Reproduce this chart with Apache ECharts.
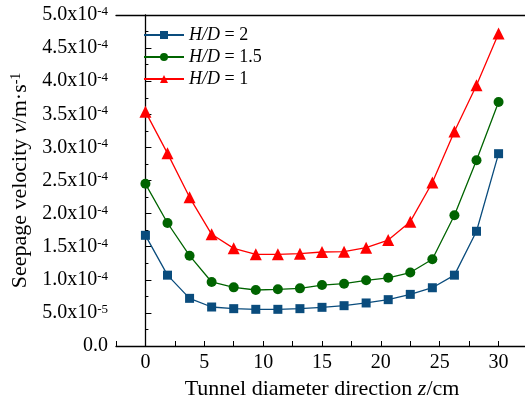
<!DOCTYPE html>
<html><head><meta charset="utf-8">
<script src="https://cdn.jsdelivr.net/npm/echarts@6/dist/echarts.min.js"></script>
<style>html,body{margin:0;padding:0;background:#fff}#c{width:525px;height:403px}</style>
</head><body><div id="c"></div>
<script>
const zValues = [0,1.875,3.75,5.625,7.5,9.375,11.25,13.125,15,16.875,18.75,20.625,22.5,24.375,26.25,28.125,30];
const hd2 = [1.672e-4,1.07e-4,0.72e-4,0.589e-4,0.564e-4,0.554e-4,0.554e-4,0.564e-4,0.584e-4,0.609e-4,0.65e-4,0.70e-4,0.78e-4,0.88e-4,1.07e-4,1.733e-4,2.905e-4];
const hd15 = [2.45e-4,1.858e-4,1.364e-4,0.967e-4,0.886e-4,0.846e-4,0.856e-4,0.871e-4,0.921e-4,0.941e-4,0.992e-4,1.03e-4,1.11e-4,1.31e-4,1.974e-4,2.805e-4,3.686e-4];
const hd1 = [3.54e-4,2.91e-4,2.246e-4,1.687e-4,1.475e-4,1.385e-4,1.385e-4,1.394e-4,1.42e-4,1.425e-4,1.485e-4,1.60e-4,1.878e-4,2.47e-4,3.24e-4,3.94e-4,4.72e-4];
const seriesNames = ['H/D = 2','H/D = 1.5','H/D = 1'];
const xTicks = [0,5,10,15,20,25,30];

const FONT = 'Liberation Serif';
const pair = (xs, ys) => xs.map((x,i)=>[x, ys[i]]);
const tickRich = {
  a:{fontFamily:FONT,fontSize:20,color:'#000',lineHeight:20},
  s:{fontFamily:FONT,fontSize:13,color:'#000',lineHeight:13,verticalAlign:'top'}
};
const nameRich = {
  a:{fontFamily:FONT,fontSize:22,color:'#000',lineHeight:22},
  i:{fontFamily:FONT,fontSize:22,color:'#000',fontStyle:'italic',lineHeight:22},
  s:{fontFamily:FONT,fontSize:14,color:'#000',lineHeight:14,verticalAlign:'top'}
};
function yFmt(v){
  if (Math.abs(v) < 1e-12) return '{a|0.0}';
  let e = Math.floor(Math.log10(v)+1e-9);
  let m = v/Math.pow(10,e);
  return '{a|'+m.toFixed(1)+'x10}{s|'+e+'}';
}
const chart = echarts.init(document.getElementById('c'), null, {renderer:'canvas'});
const axisLine = {lineStyle:{color:'#000',width:1.3}};
chart.setOption({
  animation:false,
  backgroundColor:'#fff',
  grid:{left:116,top:15,width:412,height:331,containLabel:false,outerBoundsMode:'none'},
  legend:{
    left:138, top:21, orient:'vertical', itemGap:4, itemWidth:40, itemHeight:10,
    data:seriesNames,
    formatter: n => '{i|H/D} = ' + n.split('= ')[1],
    textStyle:{fontFamily:FONT,fontSize:18,color:'#000',rich:{i:{fontFamily:FONT,fontSize:18,fontStyle:'italic',color:'#000'}}}
  },
  xAxis:[{
    type:'value', min:-2.5, max:32.5, interval:2.5,
    axisLine:axisLine,
    axisTick:{inside:true,length:5,lineStyle:{color:'#000',width:1}},
    splitLine:{show:false},
    axisLabel:{fontFamily:FONT,fontSize:20,color:'#000',margin:7,
      formatter:v=> xTicks.indexOf(v)>=0 ? String(v) : ''},
    name:'{a|Tunnel diameter direction }{i|z}{a|/cm}',
    nameLocation:'middle', nameGap:32,
    nameTextStyle:{rich:nameRich}
  },{
    type:'value', position:'top', min:-2.5, max:32.5,
    axisLine:axisLine, axisTick:{show:false}, axisLabel:{show:false}, splitLine:{show:false}
  }],
  yAxis:{
    type:'value', min:0, max:5e-4, interval:5e-5,
    axisLine:{show:true,lineStyle:{color:'#000',width:1.3}},
    axisTick:{inside:true,length:6,lineStyle:{color:'#000',width:1}},
    minorTick:{show:true,splitNumber:2,length:3,lineStyle:{color:'#000',width:1}},
    splitLine:{show:false},
    axisLabel:{margin:8,formatter:yFmt,rich:tickRich},
    name:'{a|Seepage velocity }{i|v}{a|/m·s}{s|-1}',
    nameLocation:'middle', nameGap:68,
    nameTextStyle:{rich:nameRich}
  },
  series:[
    {name:seriesNames[0],type:'line',data:pair(zValues,hd2),symbol:'rect',symbolSize:9,
     itemStyle:{color:'#0A4C7D'},lineStyle:{color:'#0A4C7D',width:1.3}},
    {name:seriesNames[1],type:'line',data:pair(zValues,hd15),symbol:'circle',symbolSize:10,
     itemStyle:{color:'#006400'},lineStyle:{color:'#006400',width:1.3}},
    {name:seriesNames[2],type:'line',data:pair(zValues,hd1),symbol:'triangle',symbolSize:12,
     itemStyle:{color:'#FF0000'},lineStyle:{color:'#FF0000',width:1.3}}
  ]
});
</script></body></html>
